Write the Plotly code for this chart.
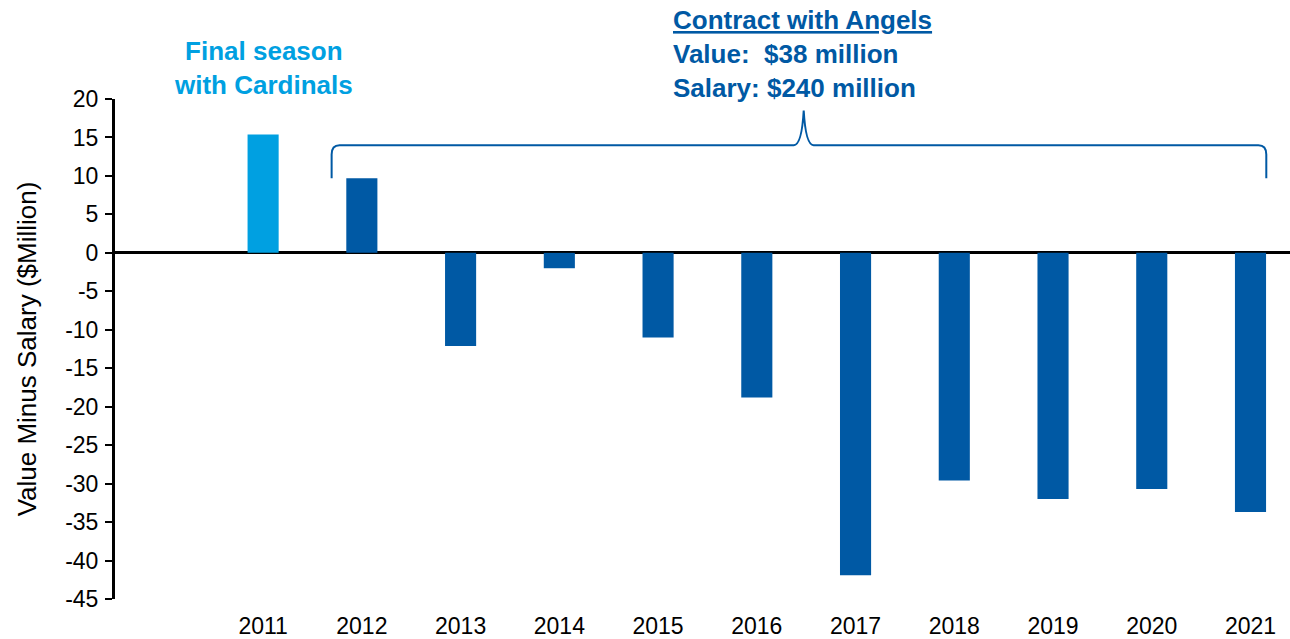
import plotly.graph_objects as go

years = ["2011", "2012", "2013", "2014", "2015", "2016", "2017", "2018", "2019", "2020", "2021"]
value_minus_salary = [15.4, 9.7, -12.1, -2.0, -11.0, -18.8, -41.9, -29.6, -32.0, -30.7, -33.7]
bar_colors = ["#00A0E1"] + ["#0059A4"] * 10
y_ticks = [20, 15, 10, 5, 0, -5, -10, -15, -20, -25, -30, -35, -40, -45]

FONT = "Arial, Liberation Sans, sans-serif"
DARK = "#0059A4"
LIGHT = "#00A0E1"

xs = list(range(len(years)))

fig = go.Figure()
fig.add_trace(go.Bar(
    x=xs, y=value_minus_salary, width=0.315,
    marker=dict(color=bar_colors, line=dict(width=0)),
    showlegend=False, hoverinfo="x+y",
))

# brace over the Angels contract years
bl, br, bm = 0.694, 10.16, 5.475
yb, yh, yt = 9.7, 14.0, 18.5
path = (f"M {bl},{yb} L {bl},{yh-1.2} Q {bl},{yh} {bl+0.08},{yh} "
        f"L {bm-0.1},{yh} Q {bm-0.02},{yh} {bm},{yt} "
        f"Q {bm+0.02},{yh} {bm+0.1},{yh} "
        f"L {br-0.08},{yh} Q {br},{yh} {br},{yh-1.2} L {br},{yb}")
fig.add_shape(type="path", path=path, xref="x", yref="y",
              line=dict(color=DARK, width=2))

fig.add_annotation(x=0, y=1.062, xref="x", yref="paper",
                   text="<b>Final season<br>with Cardinals</b>",
                   showarrow=False, xanchor="center", yanchor="middle",
                   font=dict(family=FONT, size=26, color=LIGHT), align="center")
fig.add_annotation(x=4.13, y=1.09, xref="x", yref="paper",
                   text="<b><u>Contract with Angels</u><br>Value:  $38 million<br>Salary: $240 million</b>",
                   showarrow=False, xanchor="left", yanchor="middle",
                   font=dict(family=FONT, size=26, color=DARK), align="left")

fig.update_layout(
    width=1290, height=639,
    margin=dict(l=115, r=0, t=99, b=40),
    paper_bgcolor="white", plot_bgcolor="white",
    font=dict(family=FONT, size=23, color="black"),
    bargap=0.68,
    xaxis=dict(
        range=[-1.5, 10.4], tickmode="array", tickvals=xs, ticktext=years,
        showline=False, showgrid=False, zeroline=False, ticks="",
        ticklabelstandoff=11, tickfont=dict(size=23, color="black"),
        automargin=False,
    ),
    yaxis=dict(
        range=[-45, 20], tickmode="array", tickvals=y_ticks,
        ticktext=[str(v) for v in y_ticks],
        showline=True, linecolor="black", linewidth=3,
        ticks="outside", ticklen=7, tickwidth=2, tickcolor="black",
        showgrid=False, zeroline=True, zerolinecolor="black", zerolinewidth=3,
        tickfont=dict(size=23, color="black"), ticklabelstandoff=2,
        automargin=False,
        title=dict(text="Value Minus Salary ($Million)", font=dict(size=26, color="black"), standoff=22),
    ),
)

fig.write_html("out.html", config={"displayModeBar": False},
               post_script="document.body.style.margin='0px';")
